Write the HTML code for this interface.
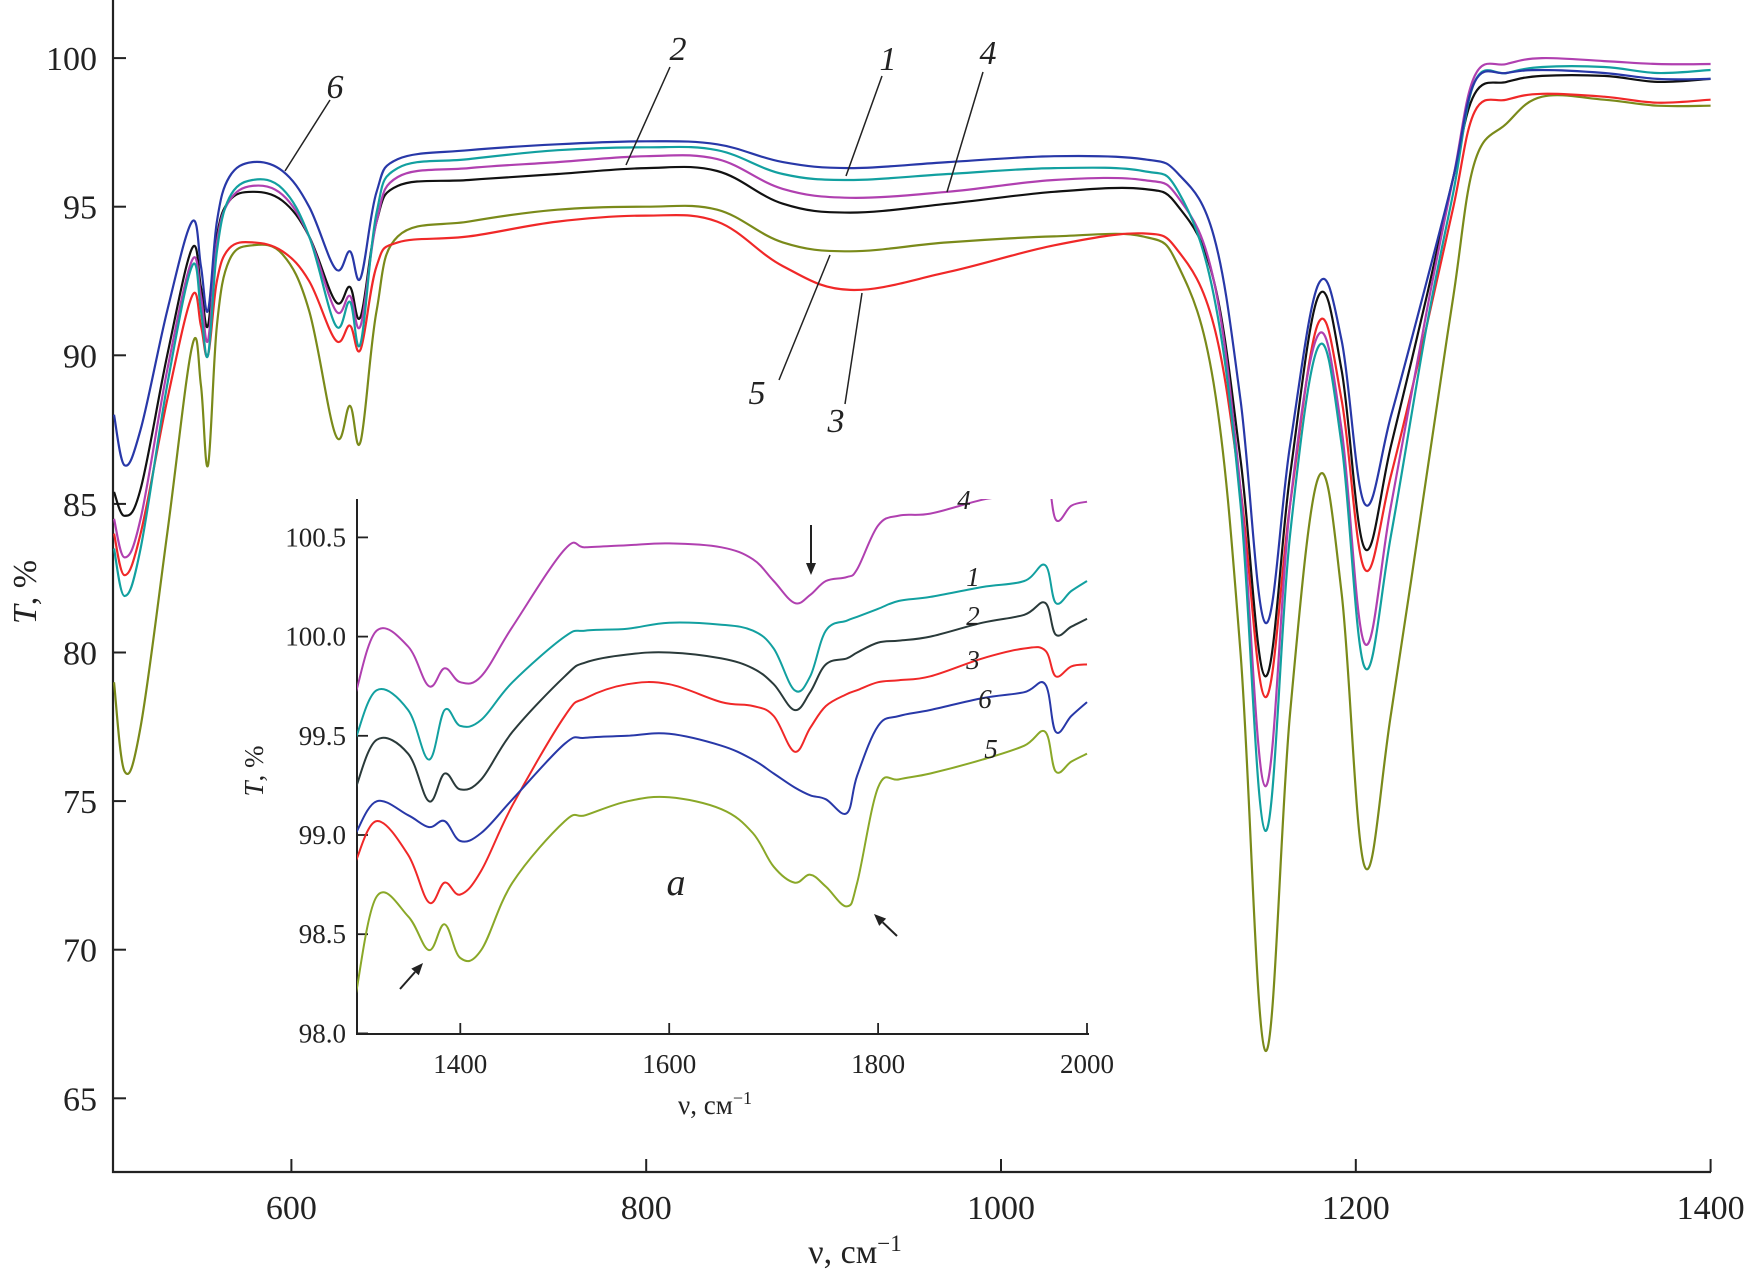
<!DOCTYPE html>
<html><head><meta charset="utf-8">
<style>
html,body{margin:0;padding:0;background:#fff;}
svg{display:block;font-family:"Liberation Serif",serif;}
</style></head>
<body>
<svg id="chart" width="1752" height="1280" viewBox="0 0 1752 1280" xmlns="http://www.w3.org/2000/svg">
<defs>
<clipPath id="mainClip"><rect x="113" y="0" width="1600" height="1172"/></clipPath>
<clipPath id="insetClip"><rect x="357" y="499" width="732" height="535"/></clipPath>
</defs>
<g id="main"></g>
<g id="inset"></g>
</svg>
<script>
const NS="http://www.w3.org/2000/svg";
// ---- main chart data ----
const mainWn=[500,506,515,530,544,549,553,558,565,578,595,610,625,633,639,648,660,700,750,800,840,877,915,970,1030,1080,1100,1120,1135,1149,1163,1179,1192,1205,1220,1240,1255,1267,1285,1305,1340,1370,1400];
const main6=[88,86.3,87.5,91.5,94.5,93,91.5,94.5,96,96.5,96.2,95,92.9,93.5,92.6,95.5,96.6,96.9,97.1,97.2,97.1,96.5,96.3,96.5,96.7,96.6,96.1,94,88.5,81,87,92.4,90.5,85,88,92.5,96,99.2,99.5,99.6,99.5,99.3,99.3];
const main1=[83.5,81.9,83.5,89,93,91.5,90,93.5,95.3,95.9,95.6,94,91,91.8,90.4,94.8,96.3,96.6,96.9,97.0,96.9,96.1,95.9,96.1,96.3,96.2,95.5,92,85,74,84,90.3,87,79.5,84,91,95.5,99.2,99.5,99.7,99.7,99.5,99.6];
const main4=[84.5,83.2,84.5,89.5,93.2,92,90.5,93.8,95.2,95.7,95.4,94,91.5,92,91,94.5,96,96.3,96.5,96.7,96.6,95.6,95.3,95.5,95.9,95.9,95.3,92.5,85.5,75.5,85,90.7,87.5,80.3,85,91.5,96,99.4,99.8,100.0,99.9,99.8,99.8];
const main2=[85.4,84.6,85.5,90,93.6,92.3,91,94,95.2,95.5,95.2,94,91.8,92.3,91.3,94.5,95.7,95.9,96.1,96.3,96.2,95.1,94.8,95.1,95.5,95.6,95.0,92.5,86.5,79.2,86,92.0,89.5,83.5,87,92,96,98.8,99.2,99.4,99.4,99.2,99.3];
const main3=[84,82.6,84,88.5,92,91,90,92.5,93.6,93.8,93.5,92.5,90.5,91,90.2,93,93.8,94.0,94.5,94.7,94.5,93.0,92.2,92.8,93.7,94.1,93.5,91,85.5,78.5,85,91.1,88.5,82.8,86,91,95,98.2,98.6,98.8,98.7,98.5,98.6];
const main5=[79,76,77.5,84,90.3,89,86.3,91,93.2,93.7,93.4,91.5,87.3,88.3,87.1,91.5,94.0,94.5,94.9,95.0,94.9,93.8,93.5,93.8,94.0,94.0,93.0,89,80,66.6,78,85.9,82,72.8,78,86,92,96.5,97.8,98.7,98.6,98.4,98.4];
const mainYTicks=[65,70,75,80,85,90,95,100];
const mainXTicks=[600,800,1000,1200,1400];
// ---- inset data ----
const insetWn=[1300,1320,1350,1370,1385,1400,1420,1450,1500,1520,1560,1600,1650,1680,1700,1720,1735,1750,1770,1780,1800,1820,1850,1900,1940,1960,1970,1985,2000];
const inset4=[99.72,100.03,99.95,99.75,99.84,99.77,99.8,100.05,100.44,100.45,100.46,100.47,100.45,100.39,100.28,100.17,100.21,100.28,100.3,100.34,100.56,100.61,100.62,100.69,100.73,100.85,100.59,100.66,100.68];
const inset1=[99.49,99.73,99.63,99.38,99.63,99.55,99.58,99.77,100.0,100.03,100.04,100.07,100.06,100.03,99.94,99.73,99.8,100.03,100.08,100.1,100.14,100.18,100.2,100.25,100.28,100.36,100.17,100.23,100.28];
const inset2=[99.24,99.48,99.41,99.17,99.31,99.23,99.28,99.52,99.8,99.87,99.91,99.92,99.89,99.84,99.76,99.63,99.72,99.86,99.89,99.92,99.97,99.98,100.0,100.07,100.11,100.17,100.01,100.05,100.09];
const inset3=[98.87,99.07,98.9,98.66,98.76,98.7,98.82,99.15,99.6,99.69,99.76,99.76,99.67,99.65,99.6,99.42,99.54,99.65,99.71,99.73,99.77,99.78,99.8,99.89,99.94,99.93,99.8,99.85,99.86];
const inset6=[99.01,99.17,99.1,99.04,99.07,98.97,99.01,99.18,99.46,99.49,99.5,99.51,99.45,99.38,99.31,99.24,99.2,99.18,99.11,99.3,99.55,99.6,99.63,99.69,99.72,99.76,99.52,99.6,99.67];
const inset5=[98.2,98.69,98.59,98.42,98.55,98.38,98.42,98.76,99.07,99.1,99.17,99.19,99.13,99.01,98.84,98.76,98.8,98.74,98.64,98.76,99.24,99.28,99.31,99.38,99.45,99.52,99.32,99.37,99.41];
const insetYTicks=[98.0,98.5,99.0,99.5,100.0,100.5];
const insetXTicks=[1400,1600,1800,2000];

const mx=w=>114+(w-500)*1.774;
const my=v=>58.1+(100-v)*29.72;
const ix=w=>460.3+(w-1400)*1.0445;
const iy=v=>537.4+(100.5-v)*198.4;

function smooth(pts){
 let d='M'+pts[0][0].toFixed(1)+','+pts[0][1].toFixed(1);
 for(let i=0;i<pts.length-1;i++){
  const p0=pts[Math.max(0,i-1)],p1=pts[i],p2=pts[i+1],p3=pts[Math.min(pts.length-1,i+2)];
  const t=0.18;
  const c1x=p1[0]+(p2[0]-p0[0])*t,c1y=p1[1]+(p2[1]-p0[1])*t;
  const c2x=p2[0]-(p3[0]-p1[0])*t,c2y=p2[1]-(p3[1]-p1[1])*t;
  d+=' C'+c1x.toFixed(1)+','+c1y.toFixed(1)+' '+c2x.toFixed(1)+','+c2y.toFixed(1)+' '+p2[0].toFixed(1)+','+p2[1].toFixed(1);
 }
 return d;
}
function mk(tag,attrs,parent,text){const e=document.createElementNS(NS,tag);for(const k in attrs)e.setAttribute(k,attrs[k]);if(text!==undefined)e.textContent=text;parent.appendChild(e);return e;}
const main=document.getElementById('main');
const inset=document.getElementById('inset');
const colors={c1:'#12a0a0',c2:'#111111',c3:'#f02828',c4:'#b040b0',c5:'#7a8a1a',c6:'#2838a8'};

// main axes
let ax=mk('path',{d:'M113,0 V1172 H1711',fill:'none',stroke:'#222','stroke-width':2.2},main);


mainYTicks.forEach(v=>{
 const t=mk('line',{x1:113,x2:126,y1:my(v),y2:my(v),stroke:'#222','stroke-width':2},main);
 
 
 const l=mk('text',{x:97,y:my(v)+12,'text-anchor':'end','font-size':34,fill:'#222'},main,String(v));
 
 
});
mainXTicks.forEach(v=>{
 const t=mk('line',{x1:mx(v),x2:mx(v),y1:1172,y2:1159,stroke:'#222','stroke-width':2},main);
 
 
 const l=mk('text',{x:mx(v),y:1219,'text-anchor':'middle','font-size':34,fill:'#222'},main,String(v));
 
 
});
let xt=mk('text',{x:855,y:1263,'text-anchor':'middle','font-size':34,fill:'#222'},main);
xt.innerHTML='ν, см<tspan dy="-12" font-size="23">−1</tspan>';


let yt=mk('text',{x:0,y:0,'text-anchor':'middle','font-size':34,fill:'#222',transform:'translate(36,592) rotate(-90)'},main);
yt.innerHTML='<tspan font-style="italic">T</tspan>, %';



const mg=mk('g',{'clip-path':'url(#mainClip)'},main);


[['5',main5,colors.c5],['3',main3,colors.c3],['2',main2,colors.c2],['4',main4,colors.c4],['1',main1,colors.c1],['6',main6,colors.c6]].forEach(([n,arr,c])=>{
 const pts=arr.map((v,i)=>[mx(mainWn[i]),my(v)]);
 const p=mk('path',{d:smooth(pts),fill:'none',stroke:c,'stroke-width':2.2,'stroke-linejoin':'round'},mg);
 
 
});
// curve labels main
[['6',335,98,330,100,285,171],['2',678,60,670,67,626,165],['1',888,70,882,76,846,176],['4',988,64,983,72,947,192],['5',757,404,779,380,830,255],['3',836,432,845,404,862,293]].forEach(([n,tx,ty,x1,y1,x2,y2])=>{
 const t=mk('text',{x:tx,y:ty,'text-anchor':'middle','font-size':34,'font-style':'italic',fill:'#222'},main,n);
 
 
 const l=mk('line',{x1:x1,y1:y1,x2:x2,y2:y2,stroke:'#222','stroke-width':1.5},main);
 
 
});

// inset axes
let iax=mk('path',{d:'M357,499 V1034 H1089',fill:'none',stroke:'#222','stroke-width':2},inset);


insetYTicks.forEach(v=>{
 const t=mk('line',{x1:357,x2:368,y1:iy(v),y2:iy(v),stroke:'#222','stroke-width':1.8},inset);
 
 
 const l=mk('text',{x:346,y:iy(v)+9,'text-anchor':'end','font-size':27,fill:'#222'},inset,v.toFixed(1));
 
 
});
insetXTicks.forEach(v=>{
 const t=mk('line',{x1:ix(v),x2:ix(v),y1:1034,y2:1023,stroke:'#222','stroke-width':1.8},inset);
 
 
 const l=mk('text',{x:ix(v),y:1073,'text-anchor':'middle','font-size':27,fill:'#222'},inset,String(v));
 
 
});
let ixt=mk('text',{x:715,y:1114,'text-anchor':'middle','font-size':27,fill:'#222'},inset);
ixt.innerHTML='ν, см<tspan dy="-10" font-size="18">−1</tspan>';


let iyt=mk('text',{x:0,y:0,'text-anchor':'middle','font-size':27,fill:'#222',transform:'translate(263,771) rotate(-90)'},inset);
iyt.innerHTML='<tspan font-style="italic">T</tspan>, %';



const ig=mk('g',{'clip-path':'url(#insetClip)'},inset);


[['4',inset4,colors.c4],['1',inset1,colors.c1],['2',inset2,'#2a3a3a'],['3',inset3,colors.c3],['6',inset6,colors.c6],['5',inset5,'#8aa828']].forEach(([n,arr,c])=>{
 const pts=arr.map((v,i)=>[ix(insetWn[i]),iy(v)]);
 const p=mk('path',{d:smooth(pts),fill:'none',stroke:c,'stroke-width':2,'stroke-linejoin':'round'},ig);
 
 
});
[['4',964,509],['1',973,586],['2',973,625],['3',973,669],['6',985,708],['5',991,758]].forEach(([n,x,y])=>{
 const t=mk('text',{x:x,y:y,'text-anchor':'middle','font-size':27,'font-style':'italic',fill:'#222'},inset,n);
 
 
});
let al=mk('text',{x:676,y:895,'text-anchor':'middle','font-size':38,'font-style':'italic',fill:'#222'},inset,'a');


// arrows
[[811,525,811,575],[897,936,874,914],[400,989,423,963]].forEach((a,k)=>{
 const [x1,y1,x2,y2]=a;const ang=Math.atan2(y2-y1,x2-x1);const h=12,w=5;
 const bx=x2-h*Math.cos(ang),by=y2-h*Math.sin(ang);
 const g=mk('g',{},inset);
 
 
 mk('line',{x1:x1,y1:y1,x2:bx,y2:by,stroke:'#222','stroke-width':2},g);
 mk('polygon',{points:`${x2},${y2} ${bx-w*Math.sin(ang)},${by+w*Math.cos(ang)} ${bx+w*Math.sin(ang)},${by-w*Math.cos(ang)}`,fill:'#222'},g);
});
</script>
</body></html>
